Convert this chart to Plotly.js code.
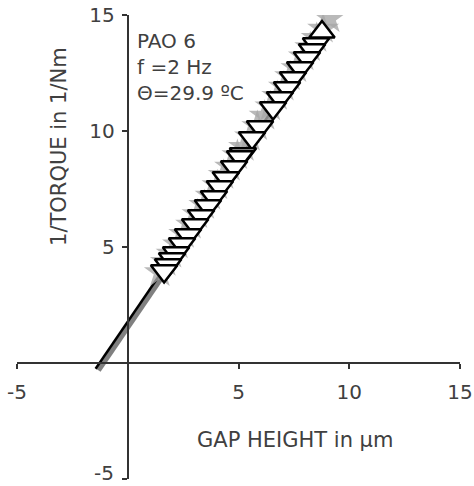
<!DOCTYPE html>
<html>
<head>
<meta charset="utf-8">
<script src="https://cdn.plot.ly/plotly-3.0.1.min.js"></script>
<style>html,body{margin:0;padding:0;background:#fff;}#chart{width:474px;height:486px;}</style>
</head>
<body>
<div id="chart"></div>
<script>
// Gap height (µm) vs 1/torque (1/Nm), triangle-down series
const downX = [1.64, 1.82, 2.00, 2.18, 2.45, 2.72, 3.04, 3.31, 3.62, 3.89, 4.16, 4.43, 4.80, 5.07, 5.20, 5.61, 5.97, 6.56, 6.87, 7.19, 7.46, 7.78, 8.09, 8.32, 8.50];
const downY = [3.97, 4.22, 4.48, 4.74, 5.13, 5.52, 5.95, 6.34, 6.77, 7.16, 7.59, 7.97, 8.45, 8.88, 9.01, 9.70, 10.17, 10.99, 11.42, 11.85, 12.28, 12.72, 13.15, 13.49, 13.75];
// triangle-up series (visible end)
const upX = [8.77];
const upY = [14.27];
// gray star series
const starX = [1.45, 1.72, 1.98, 2.27, 2.55, 2.86, 3.15, 3.46, 3.74, 4.05, 4.33, 4.62, 4.95, 5.25, 5.52, 5.85, 6.18, 6.44, 6.75, 7.05, 7.33, 7.62, 7.95, 8.24, 8.53, 8.82, 9.12];
const starY = [3.9, 4.35, 4.7, 5.1, 5.55, 5.95, 6.4, 6.8, 7.2, 7.65, 8.1, 8.45, 8.95, 9.3, 9.75, 10.2, 10.65, 11.05, 11.5, 11.9, 12.35, 12.7, 13.2, 13.6, 14.0, 14.4, 14.85];
// fit lines
const fitBlackX = [-1.45, 9.0];
const fitBlackY = [-0.25, 14.37];
const fitGrayX = [-1.32, 9.1];
const fitGrayY = [-0.32, 14.27];
// axis ticks
const tickVals = [-5, 5, 10, 15];
const tickText = ['-5', '5', '10', '15'];

const font = 'DejaVu Sans, Verdana, sans-serif';
const txt = '#404040';

const traces = [
  {x: fitGrayX, y: fitGrayY, mode: 'lines', line: {color: '#808080', width: 5}, hoverinfo: 'skip'},
  {x: fitBlackX, y: fitBlackY, mode: 'lines', line: {color: '#000000', width: 2.5}, hoverinfo: 'skip'},
  {x: starX, y: starY, mode: 'markers', marker: {symbol: 'star', size: 24, color: '#a8a8a8', opacity: 0.8, line: {width: 0}}},
  {x: upX, y: upY, mode: 'markers', marker: {symbol: 'triangle-up', size: 22, color: '#ffffff', line: {color: '#000000', width: 2.5}}},
  {x: downX.slice().reverse(), y: downY.slice().reverse(), mode: 'markers', marker: {symbol: 'triangle-down', size: 23, color: '#ffffff', line: {color: '#000000', width: 2.5}}}
];

const axisCommon = {
  range: [-5, 15], showgrid: false, zeroline: false, showline: true,
  linecolor: '#333333', linewidth: 2, ticks: 'outside', ticklen: 5, tickwidth: 2, tickcolor: '#333333',
  tickvals: tickVals, ticktext: tickText, tickfont: {family: font, size: 20, color: txt},
  anchor: 'free', position: 0.25, fixedrange: true, ticklabeloverflow: 'allow'
};

// y axis: lowest label (-5) drawn as an annotation so it stays inside the page
const yTickText = tickText.map((t, i) => (tickVals[i] === -5 ? '' : t));

const layout = {
  width: 474, height: 486,
  margin: {l: 17, r: 14, t: 15, b: 7},
  paper_bgcolor: '#ffffff', plot_bgcolor: '#ffffff',
  showlegend: false,
  xaxis: Object.assign({}, axisCommon, {ticklabelstandoff: 6}),
  yaxis: Object.assign({}, axisCommon, {ticklabelstandoff: 3, ticktext: yTickText}),
  annotations: [
    {xref: 'paper', yref: 'paper', x: 0.2212, y: -0.0151, xanchor: 'right', yanchor: 'bottom', showarrow: false,
     text: tickText[0], font: {family: font, size: 20, color: txt}, borderpad: 0},
    {xref: 'paper', yref: 'paper', x: 0.6275, y: 0.084, xanchor: 'center', yanchor: 'middle', showarrow: false,
     text: 'GAP HEIGHT in µm', font: {family: font, size: 21, color: txt}},
    {xref: 'paper', yref: 'paper', x: 0.0948, y: 0.7177, xanchor: 'center', yanchor: 'middle', showarrow: false, textangle: -90,
     text: '1/TORQUE in 1/Nm', font: {family: font, size: 21, color: txt}},
    {xref: 'paper', yref: 'paper', x: 0.266, y: 0.975, xanchor: 'left', yanchor: 'top', showarrow: false, align: 'left',
     text: 'PAO 6<br>f =2 Hz<br>Θ=29.9 ºC', font: {family: font, size: 20, color: txt}}
  ]
};

Plotly.newPlot('chart', traces, layout, {displayModeBar: false, staticPlot: true});
</script>
</body>
</html>
